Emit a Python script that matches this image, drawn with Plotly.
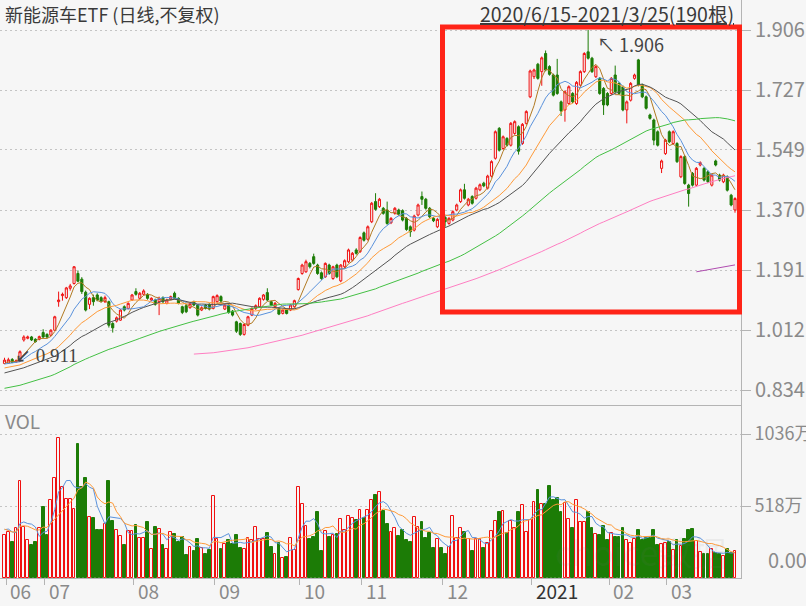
import numpy as np
import plotly.graph_objects as go

# ---------------- data ----------------
months = ["06", "07", "08", "09", "10", "11", "12", "2021", "02", "03"]
month_start_idx = [0, 10, 33, 54, 76, 92, 113, 136, 156, 171]

price_ticks = [0.834, 1.012, 1.191, 1.370, 1.549, 1.727, 1.906]
price_tick_text = ["0.834", "1.012", "1.191", "1.370", "1.549", "1.727", "1.906"]
vol_ticks = [518, 1036]
vol_tick_text = ["518万", "1036万"]

open_ = [
    0.913, 0.914, 0.925, 0.917, 0.920, 0.983, 0.988, 0.992, 0.985, 0.985,
    1.005, 0.9995, 0.997, 1.012, 1.097, 1.115, 1.109, 1.137, 1.151, 1.181,
    1.164, 1.125, 1.089, 1.109, 1.117, 1.109, 1.097, 1.097, 1.032, 1.039,
    1.042, 1.082, 1.077, 1.102, 1.127, 1.107, 1.119, 1.119, 1.102, 1.102,
    1.097, 1.109, 1.092, 1.105, 1.122, 1.107, 1.082, 1.085, 1.079, 1.097,
    1.087, 1.072, 1.087, 1.089, 1.077, 1.097, 1.112, 1.075, 1.087, 1.069,
    1.037, 1.032, 0.9995, 1.027, 1.057, 1.077, 1.082, 1.104, 1.124, 1.097,
    1.082, 1.077, 1.062, 1.074, 1.072, 1.082, 1.133, 1.181, 1.186, 1.211,
    1.231, 1.206, 1.183, 1.171, 1.206, 1.166, 1.206, 1.159, 1.201, 1.216,
    1.221, 1.251, 1.246, 1.302, 1.283, 1.335, 1.395, 1.380, 1.375, 1.370,
    1.332, 1.360, 1.370, 1.368, 1.345, 1.320, 1.310, 1.355, 1.410, 1.402,
    1.375, 1.345, 1.320, 1.355, 1.348, 1.330, 1.340, 1.370, 1.395, 1.430,
    1.385, 1.410, 1.405, 1.430, 1.450, 1.435, 1.471, 1.524, 1.613, 1.553,
    1.583, 1.563, 1.598, 1.618, 1.568, 1.628, 1.707, 1.767, 1.804, 1.782,
    1.836, 1.797, 1.772, 1.772, 1.692, 1.668, 1.687, 1.717, 1.687, 1.742,
    1.782, 1.841, 1.822, 1.767, 1.762, 1.732, 1.717, 1.717, 1.772, 1.747,
    1.737, 1.668, 1.697, 1.762, 1.817, 1.742, 1.707, 1.653, 1.638, 1.603,
    1.494, 1.538, 1.603, 1.568, 1.568, 1.469, 1.529, 1.444, 1.479, 1.444,
    1.504, 1.494, 1.484, 1.444, 1.516, 1.474, 1.454, 1.469, 1.414, 1.370,
]
close = [
    0.923, 0.924, 0.916, 0.921, 0.948, 0.992, 0.992, 0.983, 0.978, 0.993,
    0.992, 0.992, 1.012, 1.052, 1.102, 1.119, 1.138, 1.144, 1.201, 1.158,
    1.127, 1.072, 1.107, 1.097, 1.102, 1.099, 1.109, 1.027, 1.019, 1.049,
    1.072, 1.072, 1.092, 1.117, 1.119, 1.122, 1.129, 1.107, 1.107, 1.089,
    1.107, 1.097, 1.102, 1.112, 1.107, 1.092, 1.065, 1.067, 1.092, 1.087,
    1.057, 1.079, 1.077, 1.075, 1.112, 1.115, 1.099, 1.087, 1.065, 1.057,
    1.009, 0.9995, 1.029, 1.052, 1.077, 1.085, 1.107, 1.117, 1.102, 1.087,
    1.092, 1.060, 1.072, 1.062, 1.087, 1.100, 1.166, 1.206, 1.216, 1.201,
    1.211, 1.181, 1.166, 1.211, 1.181, 1.201, 1.171, 1.206, 1.219, 1.251,
    1.241, 1.241, 1.288, 1.280, 1.320, 1.390, 1.372, 1.402, 1.360, 1.330,
    1.345, 1.375, 1.358, 1.340, 1.312, 1.305, 1.352, 1.385, 1.402, 1.375,
    1.350, 1.338, 1.342, 1.340, 1.335, 1.345, 1.365, 1.385, 1.430, 1.405,
    1.402, 1.390, 1.435, 1.445, 1.442, 1.471, 1.514, 1.603, 1.548, 1.588,
    1.563, 1.628, 1.633, 1.545, 1.625, 1.663, 1.784, 1.787, 1.762, 1.823,
    1.787, 1.774, 1.712, 1.717, 1.665, 1.722, 1.737, 1.692, 1.750, 1.782,
    1.836, 1.822, 1.782, 1.797, 1.717, 1.683, 1.683, 1.762, 1.722, 1.717,
    1.668, 1.692, 1.747, 1.772, 1.742, 1.707, 1.673, 1.643, 1.578, 1.563,
    1.516, 1.578, 1.573, 1.603, 1.514, 1.529, 1.449, 1.419, 1.444, 1.494,
    1.511, 1.459, 1.454, 1.474, 1.504, 1.459, 1.474, 1.429, 1.385, 1.404,
]
high = [
    0.930, 0.930, 0.929, 0.925, 0.952, 0.997, 0.996, 0.995, 0.988, 0.996,
    1.015, 1.003, 1.015, 1.055, 1.127, 1.124, 1.141, 1.150, 1.203, 1.190,
    1.170, 1.130, 1.110, 1.118, 1.122, 1.113, 1.115, 1.100, 1.036, 1.053,
    1.075, 1.086, 1.095, 1.120, 1.137, 1.126, 1.134, 1.122, 1.110, 1.106,
    1.112, 1.113, 1.106, 1.115, 1.127, 1.110, 1.085, 1.089, 1.095, 1.100,
    1.090, 1.083, 1.090, 1.092, 1.115, 1.119, 1.116, 1.091, 1.090, 1.072,
    1.040, 1.035, 1.032, 1.055, 1.080, 1.089, 1.110, 1.120, 1.137, 1.100,
    1.096, 1.080, 1.076, 1.077, 1.090, 1.103, 1.169, 1.210, 1.222, 1.215,
    1.240, 1.210, 1.187, 1.214, 1.210, 1.204, 1.210, 1.209, 1.223, 1.255,
    1.245, 1.256, 1.292, 1.306, 1.324, 1.394, 1.420, 1.406, 1.379, 1.395,
    1.349, 1.379, 1.374, 1.372, 1.349, 1.324, 1.356, 1.389, 1.425, 1.406,
    1.379, 1.349, 1.346, 1.359, 1.352, 1.349, 1.369, 1.389, 1.434, 1.448,
    1.406, 1.414, 1.439, 1.449, 1.454, 1.475, 1.518, 1.607, 1.617, 1.592,
    1.587, 1.632, 1.637, 1.622, 1.629, 1.667, 1.788, 1.791, 1.808, 1.827,
    1.845, 1.801, 1.776, 1.820, 1.696, 1.726, 1.741, 1.721, 1.754, 1.786,
    1.840, 1.906, 1.826, 1.801, 1.766, 1.736, 1.721, 1.766, 1.800, 1.751,
    1.741, 1.696, 1.751, 1.776, 1.820, 1.746, 1.711, 1.657, 1.642, 1.607,
    1.520, 1.582, 1.607, 1.607, 1.572, 1.533, 1.533, 1.448, 1.483, 1.498,
    1.515, 1.498, 1.488, 1.478, 1.520, 1.478, 1.478, 1.473, 1.418, 1.408,
]
low = [
    0.911, 0.912, 0.914, 0.915, 0.918, 0.978, 0.985, 0.980, 0.975, 0.982,
    0.989, 0.988, 0.994, 1.010, 1.082, 1.100, 1.105, 1.130, 1.148, 1.155,
    1.120, 1.068, 1.075, 1.085, 1.098, 1.095, 1.093, 1.020, 1.005, 1.035,
    1.040, 1.068, 1.074, 1.099, 1.115, 1.104, 1.116, 1.103, 1.099, 1.085,
    1.057, 1.093, 1.089, 1.102, 1.104, 1.089, 1.060, 1.063, 1.076, 1.084,
    1.053, 1.069, 1.074, 1.071, 1.074, 1.094, 1.095, 1.072, 1.061, 1.053,
    1.004, 0.995, 0.996, 1.024, 1.054, 1.072, 1.079, 1.100, 1.099, 1.084,
    1.079, 1.057, 1.059, 1.059, 1.069, 1.079, 1.130, 1.177, 1.183, 1.196,
    1.207, 1.177, 1.162, 1.168, 1.177, 1.162, 1.167, 1.155, 1.197, 1.212,
    1.217, 1.237, 1.242, 1.276, 1.279, 1.331, 1.368, 1.376, 1.356, 1.326,
    1.328, 1.356, 1.354, 1.336, 1.308, 1.290, 1.306, 1.351, 1.385, 1.371,
    1.346, 1.334, 1.316, 1.336, 1.320, 1.326, 1.336, 1.366, 1.391, 1.401,
    1.381, 1.386, 1.401, 1.426, 1.438, 1.431, 1.467, 1.520, 1.544, 1.549,
    1.559, 1.559, 1.594, 1.535, 1.564, 1.624, 1.703, 1.760, 1.758, 1.740,
    1.783, 1.770, 1.708, 1.713, 1.650, 1.633, 1.683, 1.688, 1.683, 1.738,
    1.778, 1.818, 1.778, 1.763, 1.713, 1.653, 1.679, 1.713, 1.718, 1.713,
    1.664, 1.628, 1.693, 1.758, 1.738, 1.703, 1.669, 1.639, 1.563, 1.559,
    1.480, 1.534, 1.569, 1.564, 1.510, 1.465, 1.445, 1.380, 1.440, 1.440,
    1.500, 1.455, 1.450, 1.440, 1.500, 1.455, 1.450, 1.425, 1.381, 1.362,
]
# volume, unit: 万
volume = [
    309, 331, 259, 362, 698, 367, 273, 237, 259, 362,
    511, 309, 561, 717, 1005, 655, 566, 566, 494, 962,
    655, 717, 439, 429, 345, 345, 386, 698, 410, 345,
    302, 237, 338, 338, 381, 290, 290, 403, 211, 367,
    355, 237, 206, 331, 319, 259, 295, 165, 223, 194,
    283, 218, 170, 201, 590, 283, 211, 242, 271, 242,
    309, 218, 211, 290, 271, 367, 278, 278, 324, 223,
    170, 254, 141, 151, 285, 201, 655, 530, 374, 283,
    295, 475, 194, 338, 295, 309, 319, 422, 343, 444,
    434, 415, 489, 434, 489, 561, 597, 619, 482, 391,
    331, 357, 302, 345, 273, 259, 439, 367, 403, 290,
    324, 218, 283, 216, 175, 225, 446, 290, 357, 333,
    283, 194, 283, 283, 218, 254, 338, 410, 475, 482,
    326, 410, 357, 475, 525, 331, 415, 549, 633, 530,
    535, 662, 561, 578, 475, 542, 422, 362, 561, 405,
    405, 477, 362, 319, 309, 374, 273, 326, 295, 295,
    360, 273, 252, 283, 345, 273, 288, 290, 345, 237,
    242, 249, 261, 201, 271, 230, 283, 345, 353, 266,
    187, 170, 170, 206, 182, 170, 158, 206, 182, 194,
]
# closes before the window (needed for the moving averages)
pre_close = [
    1.000, 1.010, 0.990, 0.970, 0.950, 0.930, 0.920, 0.900, 0.880, 0.860,
    0.840, 0.820, 0.800, 0.780, 0.770, 0.780, 0.790, 0.780, 0.770, 0.780,
    0.790, 0.780, 0.770, 0.780, 0.790, 0.800, 0.790, 0.780, 0.790, 0.800,
    0.790, 0.800, 0.810, 0.800, 0.790, 0.800, 0.810, 0.800, 0.810, 0.820,
    0.830, 0.840, 0.840, 0.850, 0.850, 0.860, 0.860, 0.850, 0.860, 0.870,
    0.870, 0.880, 0.880, 0.890, 0.880, 0.890, 0.890, 0.880, 0.890, 0.900,
    0.900, 0.910, 0.900, 0.910, 0.920, 0.910, 0.900, 0.910, 0.920, 0.910,
]
pre_volume = [420, 380, 350, 300, 330, 310, 360, 390, 370]

# ---------------- helpers ----------------
N = len(close)
days = list(range(N))


def moving_avg(pre, vals, n):
    arr = np.array(pre + vals, dtype=float)
    off = len(pre)
    out = []
    for i in range(off, len(arr)):
        if i - n + 1 < 0:
            out.append(None)
        else:
            out.append(float(arr[i - n + 1:i + 1].mean()))
    return out


BG = "#f6f6f6"
RED = "#f01010"
GREEN = "#1c7c06"
AX = "#b4b4b4"
GRID = "#c4c4c4"
FONT = "Noto Sans CJK SC, Noto Sans, sans-serif"

fig = go.Figure()

fig.add_trace(go.Candlestick(
    x=days, open=open_, high=high, low=low, close=close,
    increasing=dict(line=dict(color=RED, width=1), fillcolor=BG),
    decreasing=dict(line=dict(color=GREEN, width=1), fillcolor=GREEN),
    whiskerwidth=0, xaxis="x", yaxis="y", hoverinfo="skip",
))

ma_specs = [
    (5, "#b27a22"), (10, "#5a92dc"), (20, "#ff9a38"), (30, "#545454"),
    (60, "#44c044"), (120, "#ff7ec2"), (250, "#b04cb0"),
]
for n, col in ma_specs:
    fig.add_trace(go.Scatter(
        x=days, y=moving_avg(pre_close, close, n), mode="lines",
        line=dict(color=col, width=1), xaxis="x", yaxis="y",
        hoverinfo="skip", connectgaps=False,
    ))

up = [c >= o for o, c in zip(open_, close)]
fig.add_trace(go.Bar(
    x=days, y=volume, width=0.72,
    marker=dict(color=[BG if u else GREEN for u in up],
                line=dict(color=[RED if u else GREEN for u in up], width=1)),
    xaxis="x2", yaxis="y2", hoverinfo="skip",
))
for n, col in [(5, "#5a92dc"), (10, "#ff9a38")]:
    fig.add_trace(go.Scatter(
        x=days, y=moving_avg(pre_volume, volume, n), mode="lines",
        line=dict(color=col, width=1), xaxis="x2", yaxis="y2", hoverinfo="skip",
    ))

# ---------------- layout ----------------
W, H = 806, 606
ML, MR, MT, MB = 0, 65, 0, 28
plot_w = W - ML - MR
plot_h = H - MT - MB
split_px = 405
vol_top = (plot_h - split_px) / plot_h

xr = [-1.164, 190.55]
p_top = 1.906 + 30 * (1.072 / 360)
p_bot = 0.834 - 15 * (1.072 / 360)
v_max = (plot_h - split_px) * (518 / 72)


def py(px):
    return 1 - px / plot_h


tick_font = dict(family=FONT, size=20, color="#8a8a8a")
vol_font = dict(family=FONT, size=18, color="#8a8a8a")

annotations = [
    dict(text="新能源车ETF (日线,不复权)", xref="paper", yref="paper",
         x=3 / plot_w, y=py(14), xanchor="left", yanchor="middle",
         showarrow=False, font=dict(family=FONT, size=18, color="#3a3a3a")),
    dict(text="<u>2020/6/15-2021/3/25(190根)</u>", xref="paper", yref="paper",
         x=736 / plot_w, y=py(13), xanchor="right", yanchor="middle",
         showarrow=False, font=dict(family=FONT, size=19.5, color="#3a3a3a")),
    dict(text="VOL", xref="paper", yref="paper", x=3 / plot_w, y=py(420),
         xanchor="left", yanchor="middle", showarrow=False,
         font=dict(family=FONT, size=19, color="#8a8a8a")),
    dict(text="0.00", xref="paper", yref="paper", x=766 / plot_w, y=py(559),
         xanchor="left", yanchor="middle", showarrow=False, font=tick_font),
    dict(text="↖ 1.906", xref="x", yref="paper", x=151, y=py(44),
         xanchor="left", yanchor="middle", xshift=7, showarrow=False,
         font=dict(family=FONT, size=18, color="#444444")),
    dict(text="↙ 0.911", xref="x", yref="paper", x=0, y=py(355),
         xanchor="left", yanchor="middle", xshift=8, showarrow=False,
         font=dict(family="Liberation Serif, serif", size=19, color="#444444")),
    dict(text="choice数据", xref="paper", yref="paper", x=640 / plot_w, y=py(551),
         xanchor="center", yanchor="middle", showarrow=False,
         font=dict(family=FONT, size=34, color="rgba(120,120,120,0.10)")),
]
for lab, idx in zip(months, month_start_idx):
    annotations.append(dict(
        text=lab, xref="x2", yref="paper", x=idx + 0.4, y=py(590),
        xanchor="left", yanchor="middle", xshift=2, showarrow=False,
        font=dict(family=FONT, size=19,
                  color="#333333" if lab == "2021" else "#8a8a8a")))

shapes = [
    dict(type="rect", xref="paper", yref="paper",
         x0=442.5 / plot_w, x1=739.5 / plot_w, y0=py(312), y1=py(27),
         line=dict(color="#ff2418", width=5), fillcolor="rgba(0,0,0,0)"),
]

fig.update_layout(
    width=W, height=H, margin=dict(l=ML, r=MR, t=MT, b=MB, autoexpand=False),
    paper_bgcolor=BG, plot_bgcolor=BG, showlegend=False,
    hovermode=False, bargap=0,
    boxgap=0.22,
    xaxis=dict(domain=[0, 1], range=xr, anchor="y", automargin=False,
               showticklabels=False, ticks="", showgrid=False, zeroline=False,
               showline=True, linecolor=AX, linewidth=1, mirror=True,
               rangeslider=dict(visible=False), fixedrange=True),
    xaxis2=dict(domain=[0, 1], range=xr, anchor="y2", automargin=False,
                tickvals=[i + 0.4 for i in month_start_idx],
                showticklabels=False,
                ticks="outside", ticklen=6, tickcolor=AX, showgrid=False,
                zeroline=False, showline=True, linecolor=AX, linewidth=1,
                fixedrange=True),
    yaxis=dict(domain=[vol_top, 1], range=[p_bot, p_top], side="right",
               automargin=False,
               tickvals=price_ticks, ticktext=price_tick_text,
               ticks="outside", ticklen=9, tickcolor=AX, tickfont=tick_font,
               showline=True, linecolor=AX, linewidth=1,
               showgrid=True, gridcolor=GRID, griddash="2px,3px", gridwidth=1,
               zeroline=False, fixedrange=True),
    yaxis2=dict(domain=[0, vol_top], range=[0, v_max], side="right",
                automargin=False,
                tickvals=vol_ticks, ticktext=vol_tick_text,
                ticks="outside", ticklen=9, tickcolor=AX, tickfont=vol_font,
                showline=True, linecolor=AX, linewidth=1,
                showgrid=True, gridcolor=GRID, griddash="2px,3px", gridwidth=1,
                zeroline=False, fixedrange=True),
    annotations=annotations, shapes=shapes,
)

fig.write_html("out.html", config={"displayModeBar": False})
